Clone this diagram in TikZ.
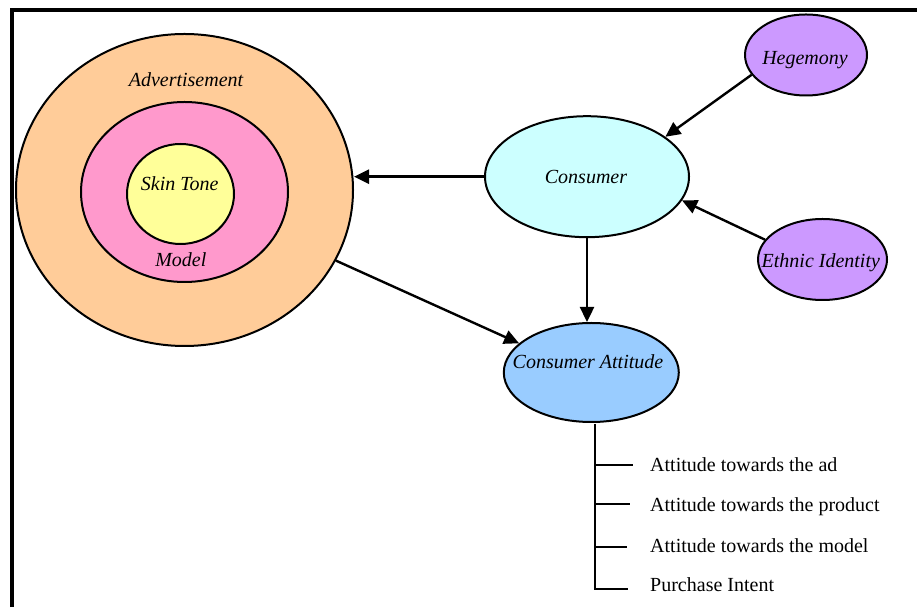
\documentclass[tikz,border=0pt]{standalone}
\usepackage{fontspec}
\setmainfont{Liberation Serif}
\usetikzlibrary{shapes.geometric,arrows.meta}
\definecolor{peach}{HTML}{FFCC99}
\definecolor{pinkm}{HTML}{FF99CC}
\definecolor{yellowm}{HTML}{FFFF99}
\definecolor{cyanm}{HTML}{CCFFFF}
\definecolor{purplem}{HTML}{CC99FF}
\definecolor{bluem}{HTML}{99CCFF}
\tikzset{
  ell/.style={ellipse, draw=black, line width=2pt, inner sep=0pt},
  lbl/.style={inner sep=0pt, anchor=base, font=\fontsize{20}{24}\selectfont\itshape},
  item/.style={inner sep=0pt, anchor=base west, font=\fontsize{20}{24}\selectfont},
  arr/.style={line width=2.4pt, -{Triangle[length=15pt,width=14pt]}},
  tree/.style={line width=2pt},
  frame/.style={line width=4pt, line join=miter}
}
\begin{document}
\begin{tikzpicture}[x=1pt,y=1pt]
\useasboundingbox (0,0) rectangle (917,607);
% frame
\coordinate (fb) at (12,0);
\coordinate (fc) at (12,597);
\coordinate (fr) at (917,597);
\draw[frame] (fb) -- (fc) -- (fr);
% advertisement circles
\node[ell, fill=peach, minimum width=337pt, minimum height=312pt] (adv) at (184.5,417) {};
\node[ell, fill=pinkm, minimum width=207pt, minimum height=180pt] (model) at (184.5,415) {};
\node[ell, fill=yellowm, minimum width=107pt, minimum height=100pt] (skin) at (180.5,413) {};
\node[lbl] (tadv) at (186,520) {Advertisement};
\node[lbl] (tskin) at (179.7,416.3) {Skin Tone};
\node[lbl] (tmodel) at (180.8,340.3) {Model};
% other ellipses
\node[ell, fill=cyanm, minimum width=204pt, minimum height=121pt] (cons) at (587,430.3) {};
\node[ell, fill=purplem, minimum width=122pt, minimum height=81pt] (heg) at (806,552) {};
\node[ell, fill=purplem, minimum width=129pt, minimum height=81pt] (eth) at (822.5,347.5) {};
\node[ell, fill=bluem, minimum width=175pt, minimum height=99pt] (att) at (591.3,234.5) {};
\node[lbl] (tcons) at (586,423.7) {Consumer};
\node[lbl] (theg) at (805,542.7) {Hegemony};
\node[lbl] (teth) at (820.8,339.7) {Ethnic Identity};
\node[lbl] (tatt) at (588,238) {Consumer Attitude};
% arrows
\draw[arr] (cons.west) -- (cons.west -| adv.east);
\draw[arr] (heg.200) -- (cons.27);
\draw[arr] (eth.161) -- (cons.346);
\draw[arr] (cons.south) -- (cons.south |- att.north);
\draw[arr] (adv.335) -- (att.158);
% tree
\coordinate (t0) at (594.5,183);
\coordinate (t1) at (594.5,142);
\coordinate (t2) at (594.5,103);
\coordinate (t3) at (594.5,60);
\coordinate (t4) at (594.5,18);
\coordinate (e1) at (632.7,142);
\coordinate (e2) at (630,103);
\coordinate (e3) at (626.7,60);
\coordinate (e4) at (627.7,18);
\draw[tree] (t0) -- (t4) -- (e4);
\draw[tree] (t1) -- (e1);
\draw[tree] (t2) -- (e2);
\draw[tree] (t3) -- (e3);
\node[item] (i1) at (650,135.3) {Attitude towards the ad};
\node[item] (i2) at (650,95) {Attitude towards the product};
\node[item] (i3) at (650,54.3) {Attitude towards the model};
\node[item] (i4) at (650,16) {Purchase Intent};
\end{tikzpicture}
\end{document}
